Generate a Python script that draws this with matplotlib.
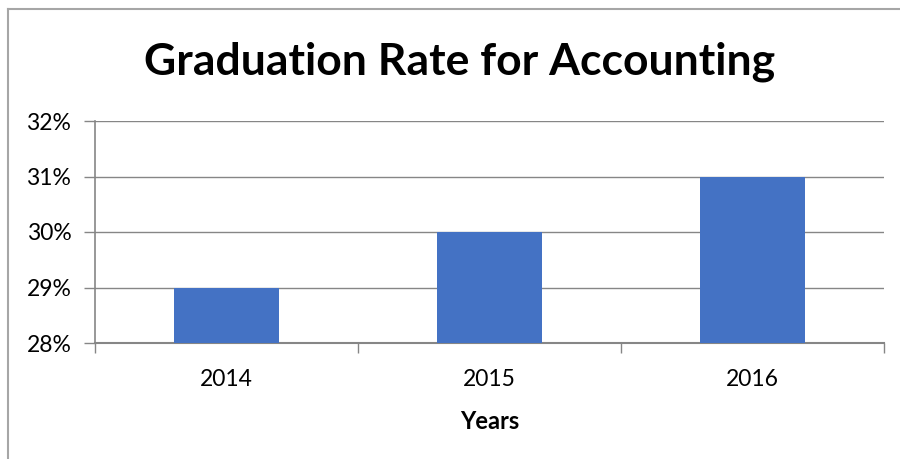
import matplotlib.pyplot as plt
from matplotlib.lines import Line2D

years = ["2014", "2015", "2016"]
rates = [29, 30, 31]
yticks = [28, 29, 30, 31, 32]

plt.rcParams['font.family'] = ['Lato', 'DejaVu Sans']

fig = plt.figure(figsize=(9, 4.59), dpi=100)
# outer chart frame: only left and top edges are visible
fx, fy = 7.5 / 900, 1 - 8.5 / 459
fig.lines.append(Line2D([fx, fx], [0, fy], transform=fig.transFigure,
                        color="#a6a6a6", linewidth=1.5))
fig.lines.append(Line2D([fx, 1], [fy, fy], transform=fig.transFigure,
                        color="#a6a6a6", linewidth=1.5))

ax = fig.add_axes([95 / 900, 1 - 343 / 459, (884 - 95) / 900, (343 - 121) / 459])
x = range(len(years))
ax.bar(x, [r - 28 for r in rates], bottom=28, width=0.4, color="#4472c4", zorder=3)

ax.set_xlim(-0.5, len(years) - 0.5)
ax.set_ylim(28, 32)
ax.set_yticks(yticks)
ax.set_yticklabels([f"{t}%" for t in yticks], fontsize=16.5)
ax.set_xticks(list(x))
ax.set_xticklabels(years, fontsize=16.5)
ax.tick_params(axis="x", length=0, pad=19)
ax.set_xticks([-0.5, 0.5, 1.5, 2.5], minor=True)
ax.tick_params(axis="x", which="minor", length=7, color="#868686", width=1)
ax.tick_params(axis="y", length=8, color="#868686", width=1, pad=9)

ax.grid(axis="y", color="#868686", linewidth=1, zorder=0)
for s in ["top", "right"]:
    ax.spines[s].set_visible(False)
ax.spines["left"].set_color("#868686")
ax.spines["bottom"].set_color("#868686")
ax.spines["left"].set_linewidth(1.2)
ax.spines["bottom"].set_linewidth(1.5)

ax.set_xlabel("Years", fontsize=17, fontweight="bold", labelpad=14)
fig.text(460 / 900, 1 - 62 / 459, "Graduation Rate for Accounting",
         fontsize=32, fontweight="bold", ha="center", va="center")

fig.savefig("out.png", dpi=100)
